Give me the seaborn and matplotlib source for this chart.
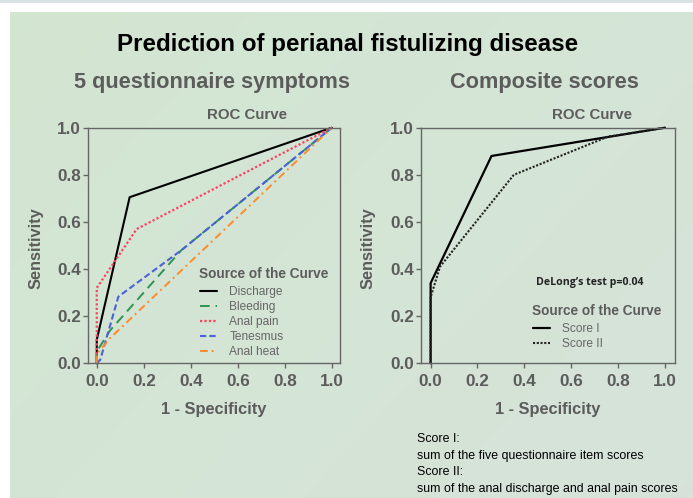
import numpy as np
import pandas as pd
import matplotlib
matplotlib.use("Agg")
import matplotlib.pyplot as plt
from matplotlib.lines import Line2D
import seaborn as sns

sns.set_theme(style="white")
plt.rcParams['font.family'] = ['Liberation Sans', 'DejaVu Sans']

# ---- data ----
symptom_names = ["Discharge", "Bleeding", "Anal pain", "Tenesmus", "Anal heat"]
discharge_fpr = [0.0, 0.0, 0.14, 1.0]
discharge_tpr = [0.0, 0.10, 0.705, 1.0]
bleeding_fpr = [0.0, 0.0, 0.057, 0.36, 1.0]
bleeding_tpr = [0.0, 0.05, 0.14, 0.48, 1.0]
analpain_fpr = [0.0, 0.0, 0.17, 1.0]
analpain_tpr = [0.0, 0.32, 0.57, 1.0]
tenesmus_fpr = [0.0, 0.015, 0.092, 0.36, 1.0]
tenesmus_tpr = [0.0, 0.015, 0.283, 0.48, 1.0]
analheat_fpr = [0.0, 0.0, 0.057, 1.0]
analheat_tpr = [0.0, 0.04, 0.107, 1.0]

score_names = ["Score I", "Score II"]
score1_fpr = [0.0, 0.0, 0.26, 1.0]
score1_tpr = [0.0, 0.34, 0.88, 1.0]
score2_fpr = [0.0, 0.0, 0.04, 0.355, 0.757, 1.0]
score2_tpr = [0.0, 0.28, 0.41, 0.80, 0.962, 1.0]

ticks = [0.0, 0.2, 0.4, 0.6, 0.8, 1.0]
tick_labels = ["0.0", "0.2", "0.4", "0.6", "0.8", "1.0"]

GRAY = "#5c5c5c"
W, H = 693, 498
fig = plt.figure(figsize=(W / 100, H / 100), dpi=100)
fig.patch.set_facecolor("white")


def fx(px):
    return px / W


def fy(py):
    return 1 - py / H


# background panel with subtle gradient
bg = fig.add_axes([10 / W, 0, 1 - 10 / W, 1 - 12 / H], zorder=-10)
gx = np.linspace(0, 1, 200)
gy = np.linspace(0, 1, 200)
GX, GY = np.meshgrid(gx, gy)
t = (GX * 0.6 + GY * 0.4)
c0 = np.array([0.827, 0.902, 0.820])
c1 = np.array([0.840, 0.890, 0.855])
img = c0[None, None, :] * (1 - t[..., None]) + c1[None, None, :] * t[..., None]
bg.imshow(img, aspect="auto", extent=[0, 1, 0, 1], origin="upper")
bg.axis("off")
band = fig.add_axes([0, 1 - 3 / H, 1, 3 / H], zorder=-10)
band.set_facecolor("#d9e2e4")
band.set_xticks([]); band.set_yticks([])
for s in band.spines.values():
    s.set_visible(False)


def style_ax(ax, xlim, ylab_x, xlab_x):
    ax.set_facecolor("none")
    ax.set_xlim(*xlim)
    ax.set_ylim(0, 1)
    ax.set_xticks(ticks)
    ax.set_yticks(ticks)
    ax.set_xticklabels(tick_labels, fontsize=12.3, fontweight="bold", color=GRAY)
    ax.set_yticklabels(tick_labels, fontsize=12.3, fontweight="bold", color=GRAY)
    ax.tick_params(axis="both", direction="out", length=3.6, width=1, color="#666666",
                   bottom=True, left=True)
    ax.tick_params(axis="x", pad=4)
    ax.tick_params(axis="y", pad=1.5)
    for s in ax.spines.values():
        s.set_visible(True)
        s.set_color("#666666")
        s.set_linewidth(1.0)
    ax.set_xlabel("1 - Specificity", fontsize=11.8, fontweight="bold", color=GRAY)
    ax.set_ylabel("Sensitivity", fontsize=11.8, fontweight="bold", color=GRAY)
    ax.yaxis.set_label_coords(ylab_x, 0.49)
    ax.xaxis.set_label_coords(xlab_x, -0.163)


def make_legend(ax, handles, names, left_px, top_px, title_y_px):
    leg = ax.legend(handles, names, loc="upper left",
                    bbox_to_anchor=(fx(left_px), fy(top_px)),
                    bbox_transform=fig.transFigure,
                    frameon=False, fontsize=8.6, handlelength=1.45, handletextpad=1.0,
                    labelspacing=0.25, borderaxespad=0, borderpad=0)
    for txt in leg.get_texts():
        txt.set_color("#666666")
    fig.text(fx(left_px - 1), fy(title_y_px), "Source of the Curve", fontsize=9.8,
             fontweight="bold", color=GRAY, ha="left", va="center")
    return leg


# ---- left panel ----
axL = fig.add_axes([fx(88.3), fy(363.3), (340 - 88.3) / W, (363.3 - 127.7) / H])
left_series = [
    (discharge_fpr, discharge_tpr, "black", "-", 1.5),
    (bleeding_fpr, bleeding_tpr, "#2f9450", (0, (5, 3)), 1.4),
    (analpain_fpr, analpain_tpr, "#ff4060", (0, (1, 1)), 1.6),
    (tenesmus_fpr, tenesmus_tpr, "#4a62d6", (0, (3, 1.5)), 1.5),
    (analheat_fpr, analheat_tpr, "#ff8a2a", (0, (4, 2, 1, 2)), 1.4),
]
handles = []
for name, (xs, ys, col, ls, lw) in zip(symptom_names, left_series):
    sns.lineplot(x=xs, y=ys, ax=axL, color=col, sort=False, estimator=None,
                 linewidth=lw, linestyle=ls, clip_on=False)
    handles.append(Line2D([0], [0], color=col, linestyle=ls, linewidth=lw))
style_ax(axL, (-0.036, 1.035), -0.178, 0.5)
make_legend(axL, handles, symptom_names, 200, 286, 274)

# ---- right panel ----
axR = fig.add_axes([fx(421), fy(363.3), (675 - 421) / W, (363.3 - 127.7) / H])
right_series = [
    (score1_fpr, score1_tpr, "black", "-", 1.6),
    (score2_fpr, score2_tpr, "#222222", (0, (1, 0.8)), 1.5),
]
handlesR = []
for name, (xs, ys, col, ls, lw) in zip(score_names, right_series):
    sns.lineplot(x=xs, y=ys, ax=axR, color=col, sort=False, estimator=None,
                 linewidth=lw, linestyle=ls, clip_on=False)
    handlesR.append(Line2D([0], [0], color=col, linestyle=ls, linewidth=lw))
style_ax(axR, (-0.041, 1.043), -0.18, 0.498)
make_legend(axR, handlesR, score_names, 533, 323, 310.7)

fig.text(fx(536), fy(283), "DeLong\u2019s test p=0.04", fontsize=7.6, fontweight="bold",
         color="#222222", ha="left", va="center", family=["Open Sans", "DejaVu Sans"])

# ---- titles ----
fig.text(fx(348), fy(51), "Prediction of perianal fistulizing disease", fontsize=17.4,
         fontweight="bold", color="black", ha="center", va="baseline")
fig.text(fx(212), fy(88), "5 questionnaire symptoms", fontsize=15.7, fontweight="bold",
         color=GRAY, ha="center", va="baseline")
fig.text(fx(544), fy(88), "Composite scores", fontsize=15.7, fontweight="bold",
         color=GRAY, ha="center", va="baseline")
fig.text(fx(247), fy(115), "ROC Curve", fontsize=10.8, fontweight="bold",
         color=GRAY, ha="center", va="center")
fig.text(fx(592), fy(115), "ROC Curve", fontsize=10.8, fontweight="bold",
         color=GRAY, ha="center", va="center")

# ---- footnote ----
notes = ["Score I:", "sum of the five questionnaire item scores", "Score II:",
         "sum of the anal discharge and anal pain scores"]
for i, line in enumerate(notes):
    fig.text(fx(417), fy(439 + 16.5 * i), line, fontsize=8.9, color="black",
             ha="left", va="center")

fig.savefig("out.png", dpi=100)
